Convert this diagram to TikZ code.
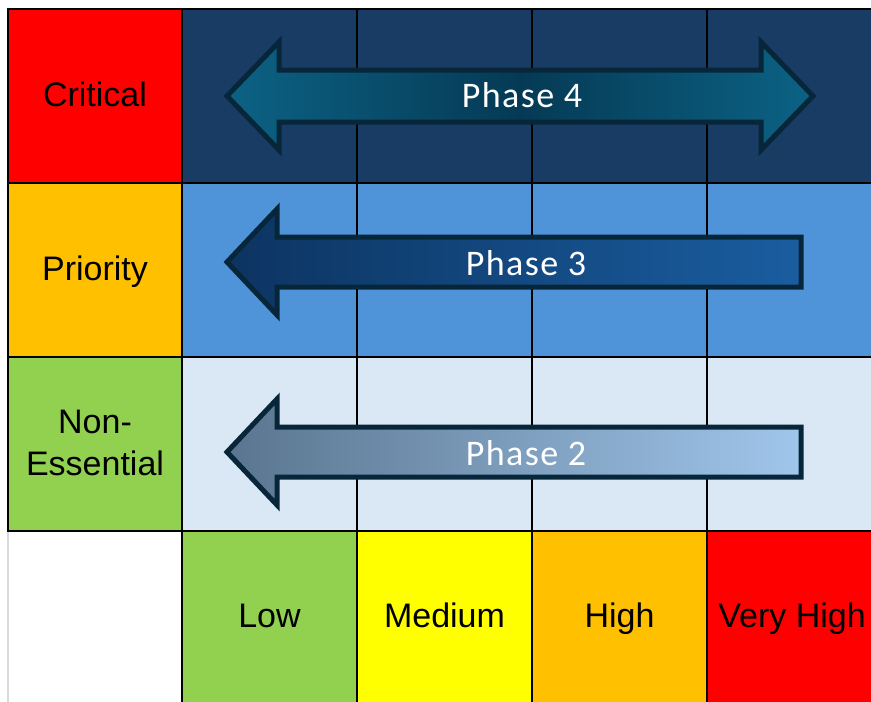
\documentclass[tikz,border=0pt]{standalone}
\usepackage{fontspec}
\setmainfont{Liberation Sans}
\newfontfamily\phasefont[LetterSpace=4]{Carlito}
\definecolor{critred}{HTML}{FF0000}
\definecolor{prigold}{HTML}{FFC000}
\definecolor{lowgreen}{HTML}{92D050}
\definecolor{medyellow}{HTML}{FFFF00}
\definecolor{navyrow}{HTML}{183C64}
\definecolor{bluerow}{HTML}{4F93D9}
\definecolor{paleblue}{HTML}{DAE8F6}
\definecolor{arrowline}{HTML}{07263A}
\definecolor{pfourend}{HTML}{0C6284}
\definecolor{pfourmid}{HTML}{053A55}
\definecolor{pthreeleft}{HTML}{0C3461}
\definecolor{pthreeright}{HTML}{1A5DA0}
\definecolor{ptwoleft}{HTML}{5A758F}
\definecolor{ptworight}{HTML}{A0C6EB}
\begin{document}
\begin{tikzpicture}[x=0.75pt,y=-0.75pt,
  gridline/.style={line width=1.9pt,black},
  lbl/.style={font=\fontsize{25.5}{31.5}\selectfont,text=black,inner sep=0pt,anchor=base},
  phaselbl/.style={font=\phasefont\fontsize{27}{32}\selectfont,text=white,inner sep=0pt,anchor=base},
  phasearrow/.style={draw=arrowline,line width=3.75pt,line join=miter}]
\useasboundingbox (0,0) rectangle (871,701);
\fill[white] (0,0) rectangle (871,701);

% row headers
\fill[critred]  (8,9)   rectangle (182,183);
\fill[prigold]  (8,183) rectangle (182,357);
\fill[lowgreen] (8,357) rectangle (182,531);

% row bands
\fill[navyrow]  (182,9)   rectangle (881,183);
\fill[bluerow]  (182,183) rectangle (881,357);
\fill[paleblue] (182,357) rectangle (881,531);

% column headers
\fill[lowgreen]  (182,531) rectangle (357,705);
\fill[medyellow] (357,531) rectangle (532,705);
\fill[prigold]   (532,531) rectangle (707,705);
\fill[critred]   (707,531) rectangle (881,705);

% grid
\draw[line width=1.9pt,black!15] (8,531) -- (8,705);
\foreach \yy in {9,183,357,531} \draw[gridline] (7,\yy) -- (881,\yy);
\draw[gridline] (8,8) -- (8,532);
\foreach \xx in {182,357,532,707} \draw[gridline] (\xx,8) -- (\xx,705);

% phase arrows
\draw[phasearrow,left color=pfourend,right color=pfourend,middle color=pfourmid]
  (227,96) -- (279,42) -- (279,70) -- (761,70) -- (761,42) -- (813,96)
  -- (761,150) -- (761,122) -- (279,122) -- (279,150) -- cycle;
\draw[phasearrow,left color=pthreeleft,right color=pthreeright]
  (227,262) -- (277,209) -- (277,237) -- (801,237) -- (801,287)
  -- (277,287) -- (277,315) -- cycle;
\draw[phasearrow,left color=ptwoleft,right color=ptworight]
  (227,452) -- (277,399) -- (277,427) -- (801,427) -- (801,477)
  -- (277,477) -- (277,505) -- cycle;

\node[phaselbl] (phasefour)  at (522,107.5) {Phase 4};
\node[phaselbl] (phasethree) at (526,275)   {Phase 3};
\node[phaselbl] (phasetwo)   at (526,465.5) {Phase 2};

% labels
\node[lbl] (critical) at (95,106) {Critical};
\node[lbl] (priority) at (95,280) {Priority};
\node[lbl] (nonessential) at (95,433) {Non-};
\node[lbl] (essential) at (95,475) {Essential};
\node[lbl] (low)      at (269.5,627) {Low};
\node[lbl] (medium)   at (444.5,627) {Medium};
\node[lbl] (high)     at (619.5,627) {High};
\node[lbl] (veryhigh) at (792,627)   {Very High};
\end{tikzpicture}
\end{document}
